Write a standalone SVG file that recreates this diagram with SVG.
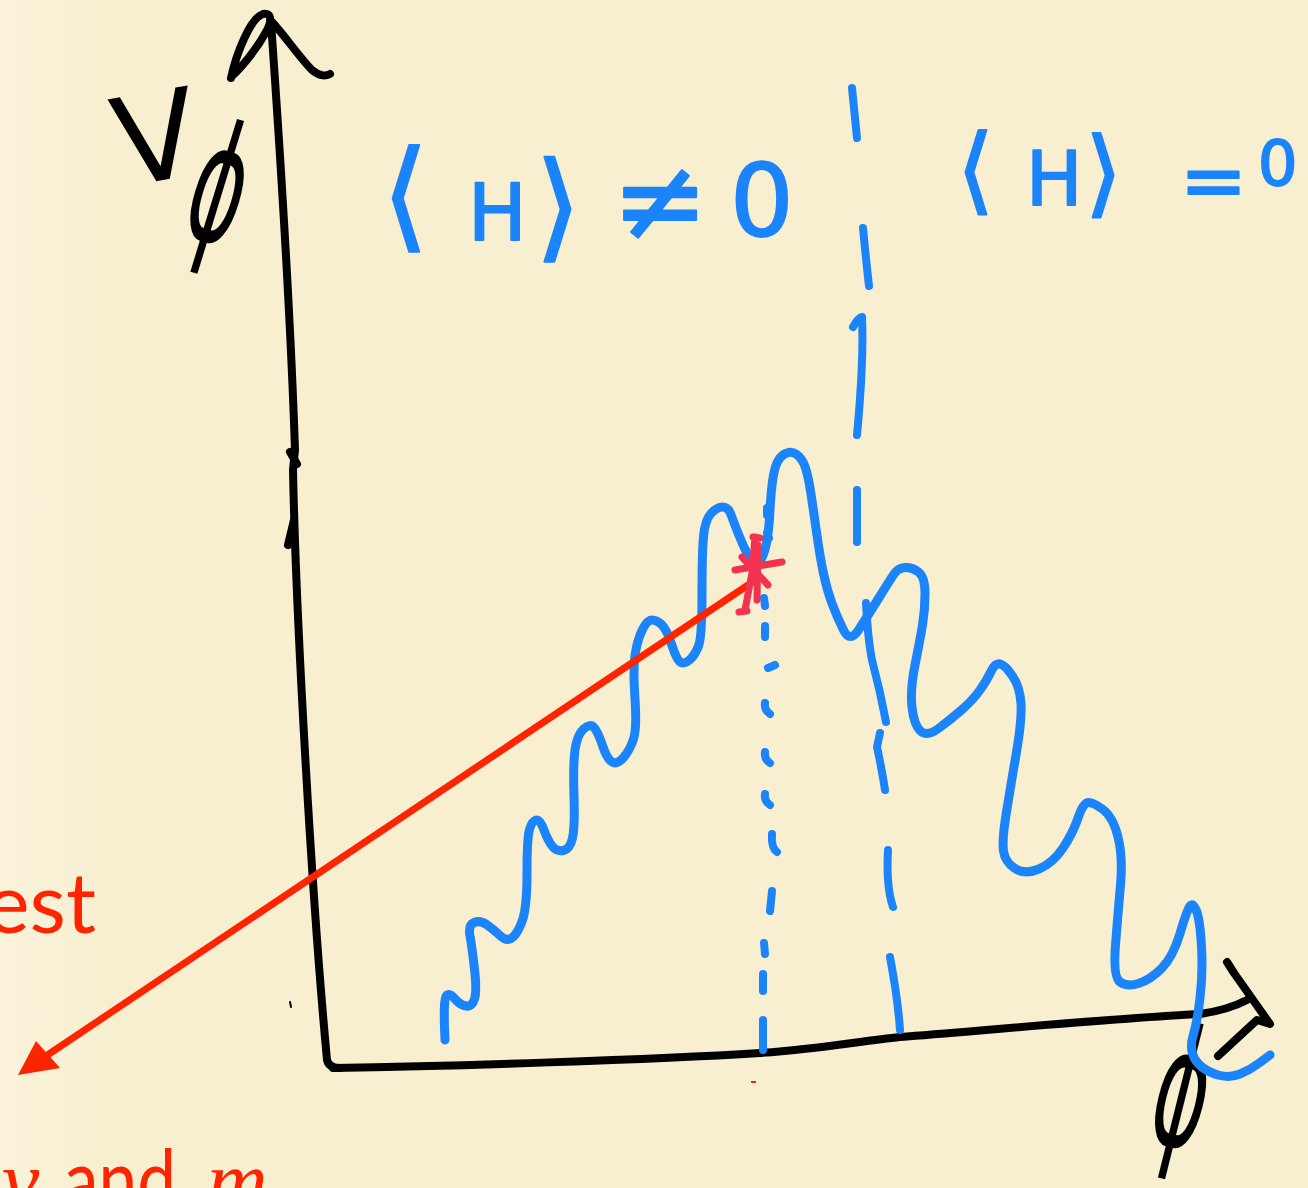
<svg xmlns="http://www.w3.org/2000/svg" width="1308" height="1188" viewBox="0 0 1308 1188">
  <defs>
    <linearGradient id="paper" x1="0" y1="0" x2="1" y2="0">
      <stop offset="0" stop-color="#FAF3DA"/>
      <stop offset="0.08" stop-color="#F8EFD1"/>
      <stop offset="1" stop-color="#F8EFD0"/>
    </linearGradient>
    <style>
      .ink{fill:none;stroke:#000;stroke-width:8;stroke-linecap:round;stroke-linejoin:round}
      .blue{fill:none;stroke:#1B84FA;stroke-width:9;stroke-linecap:round;stroke-linejoin:round}
      .dash{fill:none;stroke:#1B84FA;stroke-width:8;stroke-linecap:round;stroke-linejoin:round}
      .star{fill:none;stroke:#F2334F;stroke-width:7;stroke-linecap:round;stroke-linejoin:round}
      .red{fill:none;stroke:#FF2400;stroke-width:7;stroke-linecap:butt}
      .hwb{font-family:"DejaVu Sans","Liberation Sans",sans-serif;fill:#1B84FA;stroke:#1B84FA;stroke-width:2;stroke-linejoin:round}
      .hwk{font-family:"DejaVu Sans","Liberation Sans",sans-serif;fill:#000}
      .cap{font-family:Lato,"Open Sans","Liberation Sans",sans-serif;fill:#FF2400}
      .mi{font-family:"Liberation Serif",serif;font-style:italic}
    </style>
  </defs>
  <rect x="0" y="0" width="1308" height="1188" fill="url(#paper)"/>

  <g id="y-axis">
    <path class="ink" d="M271,22 C280,150 290,300 295,450 L293,470 C296,620 312,900 327,1060 Q329,1068 340,1068"/>
    <path class="ink" d="M290,452 L297,464"/>
    <path class="ink" d="M294,520 L288,545"/>
    <path class="ink" d="M231,78 C236,55 250,18 263,14 C272,12 272,22 266,32 C256,50 241,68 232,76"/>
    <path class="ink" d="M272,22 C285,36 300,58 312,70 C320,77 327,76 330,74"/>
    <path class="ink" d="M290,1002 L291,1007" style="stroke-width:2"/>
  </g>

  <g id="x-axis">
    <path class="ink" d="M333,1068 C450,1066 650,1060 760,1053 C820,1049 860,1041 900,1037 C1000,1029 1120,1018 1200,1014 Q1228,1010 1247,1000"/>
    <path class="ink" d="M1227,962 L1234,973 L1270,1024 L1257,1020 L1218,1056"/>
  </g>

  <g id="label-vphi">
    <text class="hwk" x="163" y="180" font-size="122" text-anchor="middle" transform="rotate(-10 163 180)">V</text>
    <text class="hwk" font-size="165" text-anchor="middle" transform="translate(204,240) rotate(17) scale(0.5,1)">ϕ</text>
  </g>

  <g id="label-phi">
    <text class="hwk" font-size="165" text-anchor="middle" transform="translate(1170,1145) rotate(14) scale(0.5,1)">ϕ</text>
  </g>

  <g id="label-broken">
    <text class="hwb" font-size="100"><tspan x="382" y="236" font-size="120">⟨</tspan><tspan x="468" y="240" font-size="78">H</tspan><tspan x="535" y="246" font-size="118">⟩</tspan> <tspan x="612" y="240" font-size="115">≠</tspan> <tspan x="730" y="236">0</tspan></text>
  </g>

  <g id="label-unbroken">
    <text class="hwb" font-size="80"><tspan x="957" y="202" font-size="95">⟨</tspan><tspan x="1026" y="205" font-size="75">H</tspan><tspan x="1085" y="205" font-size="95">⟩</tspan> <tspan x="1180" y="208" font-size="80">=</tspan><tspan x="1258" y="185" font-size="62">0</tspan></text>
  </g>

  <g id="potential">
    <path class="blue" d="M445,1040 Q443,998 446.5,995.5 Q450,993 455,999 Q460,1005 466,1006 Q472,1007 474.5,999 Q477,991 474.5,969 Q472,947 470,936 Q468,925 474,922.5 Q480,920 486.5,924.5 Q493,929 500,935.5 Q507,942 512.5,937.5 Q518,933 522.5,920 Q527,907 527,872.5 Q527,838 529.5,829.5 Q532,821 536,820 Q540,819 544,830 Q548,841 552.5,846.5 Q557,852 563.5,850.5 Q570,849 572.5,838 Q575,827 574,796 Q573,765 575,750 Q577,735 583.5,729 Q590,723 594,727.5 Q598,732 602.5,745.5 Q607,759 612,762 Q617,765 623.5,757.5 Q630,750 633.5,739 Q637,728 635,699 Q633,670 635,655.5 Q637,641 642,630.5 Q647,620 652,620 Q657,620 662,625 Q667,630 672,645.5 Q677,661 681,662.5 Q685,664 690,659.5 Q695,655 698.5,646 Q702,637 702,595 Q702,553 703.5,536.5 Q705,520 711,513.5 Q717,507 722.5,507 Q728,507 730.5,513.5 Q733,520 738,533 Q743,546 749,557 Q755,568 759.5,562 Q764,556 766.5,543 Q769,530 770,510 Q771,490 773.5,475 Q776,460 783,455 Q790,450 796,454 Q802,458 805,466.5 Q808,475 810.5,491 Q813,507 816.5,532 Q820,557 823.5,573.5 Q827,590 832,603.5 Q837,617 843.5,630 Q850,643 858.5,630 Q867,617 878.5,598.5 Q890,580 894,574 Q898,568 905,567.5 Q912,567 918.5,572 Q925,577 925,593.5 Q925,610 922.5,625 Q920,640 915,665 Q910,690 912,707.5 Q914,725 920.5,731 Q927,737 938.5,728.5 Q950,720 961.5,710 Q973,700 980,690 Q987,680 991,671.5 Q995,663 1000,664 Q1005,665 1012.5,676 Q1020,687 1021,703.5 Q1022,720 1016,755 Q1010,790 1006,815 Q1002,840 1003.5,851 Q1005,862 1015,868.5 Q1025,875 1039,869 Q1053,863 1063,848 Q1073,833 1078,818 Q1083,803 1088,802.5 Q1093,802 1103,809.5 Q1113,817 1118,837 Q1123,857 1120.5,885 Q1118,913 1115.5,945 Q1113,977 1120,982 Q1127,987 1138.5,983.5 Q1150,980 1161.5,968.5 Q1173,957 1180,933.5 Q1187,910 1190,906 Q1193,902 1196.5,911 Q1200,920 1201.5,946.5 Q1203,973 1200,998 Q1197,1023 1193.5,1034 Q1190,1045 1192.5,1053.5 Q1195,1062 1202.5,1067.5 Q1210,1073 1220,1075.5 Q1230,1078 1240,1074 Q1250,1070 1260,1062.5 L1270,1055"/>
  </g>

  <g id="boundary-dashed">
    <path class="dash" d="M852,88 L857,138"/>
    <path class="dash" d="M863,228 Q866,260 869,286"/>
    <path class="dash" d="M853,327 Q858,318 862,317 Q864,360 857,435"/>
    <path class="dash" d="M857,490 L857,542"/>
    <path class="dash" d="M866,603 Q868,640 872,660 Q880,690 886,722"/>
    <path class="dash" d="M880,733 L877,747 Q882,770 885,790"/>
    <path class="dash" d="M888,850 Q886,887 893,907"/>
    <path class="dash" d="M890,957 Q898,1000 900,1030"/>
  </g>

  <g id="vev-dotted">
    <path class="dash" d="M767,508 L767,515"/>
    <path class="dash" d="M767,533 L769,538"/>
    <path class="dash" d="M764,598 L765,606"/>
    <path class="dash" d="M765,626 L765,637"/>
    <path class="dash" d="M768,668 L775,665"/>
    <path class="dash" d="M765,703 Q764,710 770,714"/>
    <path class="dash" d="M765,752 Q764,759 770,763"/>
    <path class="dash" d="M765,794 Q764,801 770,805"/>
    <path class="dash" d="M772,834 Q771,848 777,852"/>
    <path class="dash" d="M772,891 L770,911"/>
    <path class="dash" d="M764,943 L765,954"/>
    <path class="dash" d="M763,974 L763,991"/>
    <path class="dash" d="M763,1020 L763,1050"/>
  </g>

  <g id="connectors">
    <line class="red" x1="760" y1="577" x2="46" y2="1056"/>
    <polygon points="18,1075 36,1041 60,1068" fill="#FF2400"/>
    <line x1="751" y1="1082" x2="756" y2="1082" stroke="#FF2400" stroke-width="2"/>
  </g>

  <g id="star">
    <path class="star" d="M753,537 L760,538 M755,537 L752,573 L745,610 M739,612 L747,611"/>
    <path class="star" d="M735,570 L782,562"/>
    <path class="star" d="M742,557 L768,585"/>
    <path class="star" d="M758,545 L757,600"/>
  </g>

  <g id="caption">
    <text class="cap" x="96" y="933" font-size="84" text-anchor="end">est</text>
    <text class="cap" y="1209" font-size="84"><tspan class="mi" x="2">v</tspan> <tspan x="64" textLength="112" lengthAdjust="spacingAndGlyphs">and</tspan> <tspan class="mi" x="207">m</tspan></text>
  </g>
</svg>
